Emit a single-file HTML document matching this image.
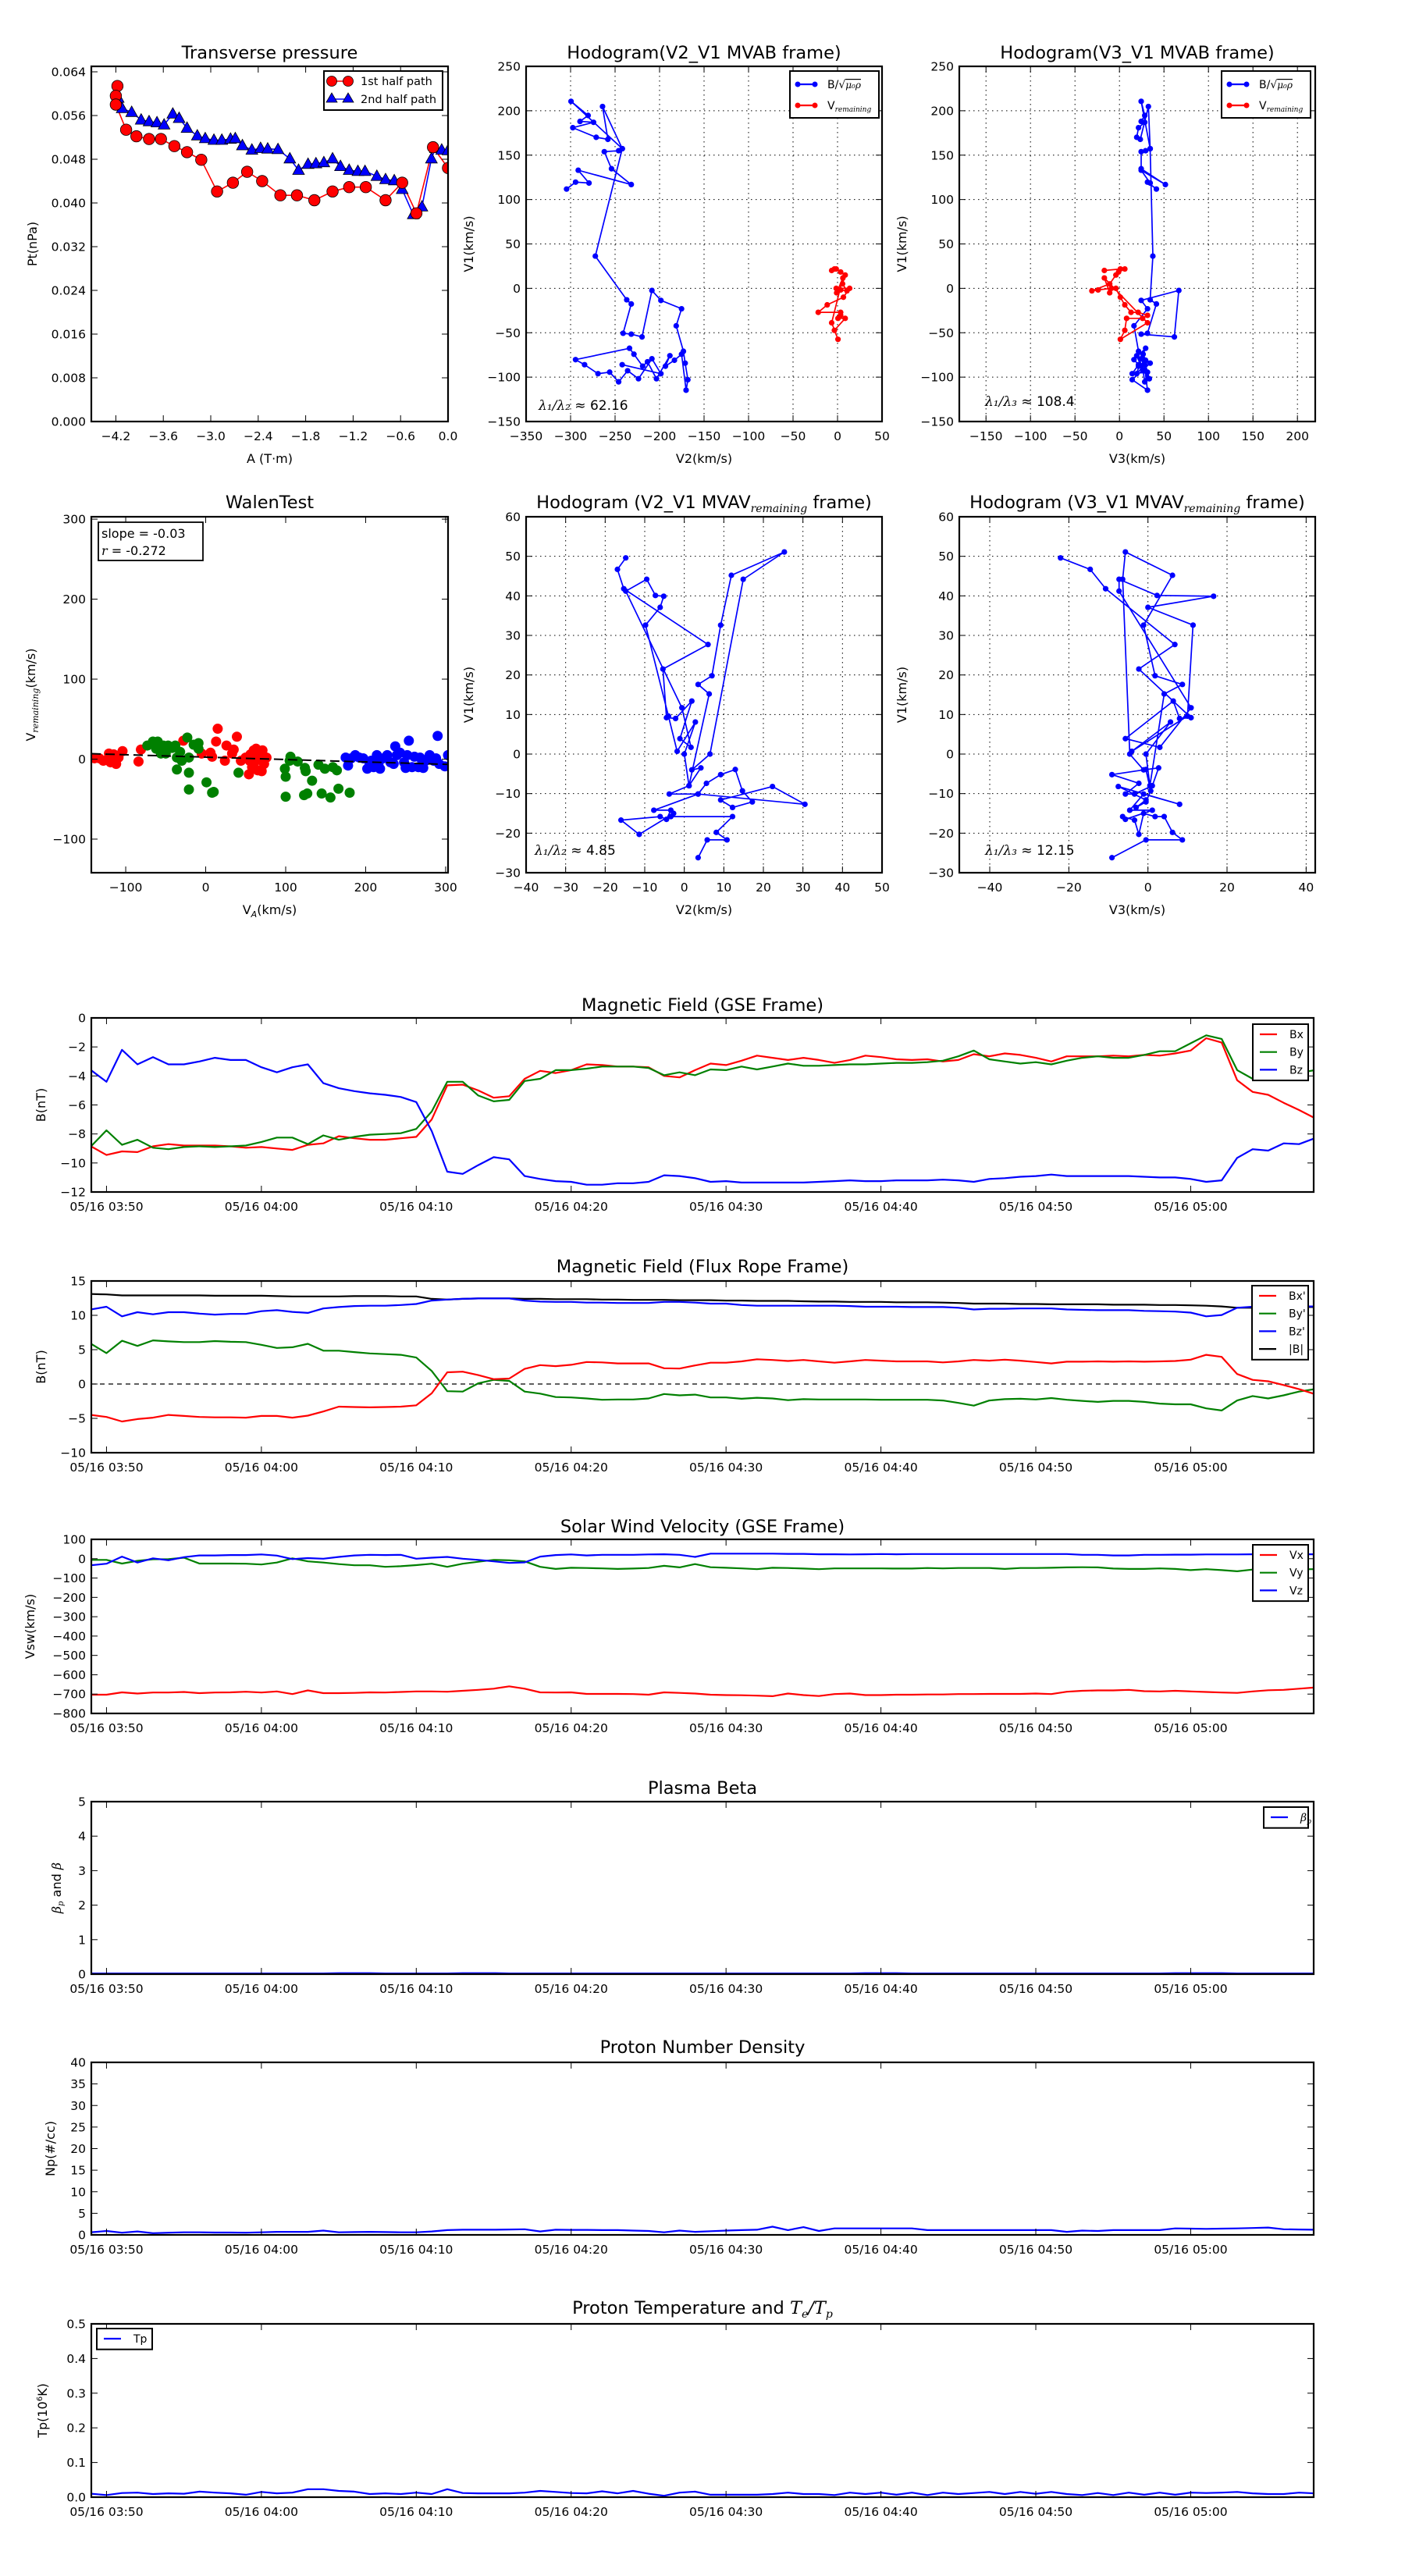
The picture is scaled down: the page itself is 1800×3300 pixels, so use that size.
<!DOCTYPE html>
<html><head><meta charset="utf-8">
<style>
html,body{margin:0;padding:0;background:#fff;}
svg{display:block;font-family:"DejaVu Sans","Liberation Sans",sans-serif;}
</style></head>
<body>
<svg id="fig" width="1800" height="3300" viewBox="0 0 1800 3300" xmlns="http://www.w3.org/2000/svg">
<rect width="1800" height="3300" fill="#fff"/>
</svg>
<script>
// ---------------- DATA ----------------
// Transverse pressure
const tpA1 = [-4.18,-4.20,-4.20,-4.07,-3.94,-3.78,-3.63,-3.46,-3.30,-3.12,-2.92,-2.72,-2.54,-2.35,-2.12,-1.91,-1.69,-1.46,-1.25,-1.04,-0.79,-0.58,-0.40,-0.19,0.0];
const tpP1 = [0.0614,0.0596,0.0580,0.0534,0.0522,0.0517,0.0517,0.0504,0.0493,0.0479,0.0421,0.0437,0.0457,0.0440,0.0414,0.0414,0.0405,0.0421,0.0429,0.0429,0.0405,0.0437,0.0381,0.0502,0.0464];
const tpA2 = [-4.17,-4.12,-4.0,-3.88,-3.78,-3.68,-3.59,-3.48,-3.40,-3.30,-3.17,-3.07,-2.96,-2.86,-2.75,-2.69,-2.60,-2.48,-2.37,-2.28,-2.15,-2.0,-1.89,-1.77,-1.67,-1.57,-1.46,-1.36,-1.25,-1.14,-1.05,-0.90,-0.79,-0.68,-0.58,-0.44,-0.33,-0.21,-0.16,-0.08,0.0];
const tpP2 = [0.0592,0.0573,0.0566,0.0552,0.0549,0.0547,0.0543,0.0563,0.0555,0.0537,0.0523,0.0518,0.0515,0.0515,0.0517,0.0518,0.0505,0.0497,0.0500,0.0499,0.0498,0.0481,0.0460,0.0471,0.0472,0.0474,0.0481,0.0467,0.0460,0.0458,0.0458,0.0449,0.0443,0.0441,0.0425,0.0379,0.0393,0.0481,0.0500,0.0497,0.0496];
const tpXTicks = [-4.2,-3.6,-3.0,-2.4,-1.8,-1.2,-0.6,0.0];
const tpXLabels = ['−4.2','−3.6','−3.0','−2.4','−1.8','−1.2','−0.6','0.0'];
const tpYTicks = [0,0.008,0.016,0.024,0.032,0.040,0.048,0.056,0.064];
const tpYLabels = ['0.000','0.008','0.016','0.024','0.032','0.040','0.048','0.056','0.064'];

// Hodogram MVAB (B/sqrt(mu0 rho))
const hbV2 = [-304.5,-294.4,-279.3,-291.4,-231.8,-254,-262.1,-246,-241.9,-264.1,-258.1,-271.2,-297.5,-274.2,-289.4,-280.3,-299.5,-241.9,-272.2,-236.9,-231.8,-241,-231.8,-219.7,-208.6,-198.5,-175.3,-181.3,-173.2,-171.2,-168.2,-170.2,-175.3,-183.3,-193.4,-188.4,-203.5,-213.6,-219,-228.8,-233.8,-294.4,-284.3,-269.2,-256.1,-246,-235.9,-223.7,-208.6,-198.5,-242];
const hbV3 = [41.5,31.5,34.5,24.4,51.6,24.4,24.4,29.4,34.5,32.5,23.4,19.4,21.4,28.4,24.4,28.4,24.4,34.5,37.5,34.5,41.5,31.5,24.4,61.7,66.7,24.4,31.5,16.3,21.4,34.5,14.3,31.5,26.5,29.4,24.4,19.4,33.5,28.4,21.4,26.5,29.4,16.3,21.4,14.3,31.5,28.4,26.5,33.5,24.4,19.4,28.4];
const hbV1 = [111.8,119.6,118.6,133.0,116.9,134.7,153.9,155.0,157.3,204.8,167.8,170.1,180.9,187.0,188.0,194.7,210.6,157.3,36.3,-12.9,-17.6,-50.6,-51.6,-54.7,-2.4,-13.6,-23.0,-42.2,-70.9,-84.3,-102.9,-114.7,-74.2,-81.0,-87.7,-75.9,-101.8,-82.7,-87.7,-74.2,-67.5,-80.3,-86.0,-96.1,-94.4,-105.3,-92.8,-101.8,-79.3,-96.1,-86.0];
// V remaining
const hrV2 = [-6.6,-1.5,-3.5,3.5,8.6,5.6,10.6,3.5,-1.5,13.6,6.6,-11.6,-21.7,3.5,3.5,0.5,8.6,-3.5,0.5,-6.6,6,-1];
const hrV3 = [-17,1,6,-1,-4,-11,-31,-24,-9,-4,1,6,13,21,31.5,26,8,6,1,31.5,-17,-11];
const hrV1 = [20.1,21.8,21.8,18.4,15,5,-2.8,-1.8,0,0,-10,-18.6,-27,-27,-30.4,-33.8,-33.8,-47.3,-57.4,-38.8,11.7,-5];

// Walen test
const wRedX = [-139,-133,-128,-121,-119,-115,-112,-109,-104,-84,-81,-28,-5,6,8,13,15,24,26,33,35,39,44,50,54,56,58,61,63,65,67,70,71,73,76,60,55];
const wRedY = [1,1,-2,7,-4,6,-6,2,10,-3,12,23,7,8,3,22,38,-2,17,7,12,28,-2,2,-19,6,-10,-4,13,-14,2,-15,11,-6,2,11,-2];
const wGrnX = [-73,-66,-60,-62,-56,-53,-50,-47,-42,-38,-36,-36,-32,-30,-23,-21,-21,-21,-15,-9,-9,1,8,10,41,99,100,100,106,105,115,124,125,123,127,133,141,145,149,156,159,164,166,180];
const wGrnY = [17,22,22,13,7,17,7,17,14,17,-13,2,9,-2,27,-17,-38,2,18,20,13,-29,-42,-41,-17,-12,-22,-47,3,-2,-3,-11,-15,-45,-43,-27,-7,-43,-12,-48,-10,-14,-37,-42];
const wBluX = [175,178,182,187,192,197,202,207,210,214,218,222,227,231,235,237,239,243,248,250,252,254,258,261,266,268,272,275,280,285,288,290,292,299,303,205,216];
const wBluY = [2,-8,1,5,2,1,-12,-2,-10,5,-12,1,5,-4,-6,16,5,8,-4,-11,5,23,-10,3,-10,2,-11,-2,5,-2,1,29,-6,-9,5,-6,-6];
const wFit = [-0.03, 2.5];
const wTicks = [-100,0,100,200,300];
const wTickLabels = ['−100','0','100','200','300'];

// Hodogram MVAV remaining
const hvV2 = [-14.8,-16.9,-15.3,6.0,-5.4,-4.5,-2.2,1.9,-1.1,1.7,-0.6,-14.8,-9.5,-7.3,-5.2,-6.1,-9.8,-4.0,-1.8,2.8,0,1.2,6.3,3.5,7,9.2,11.9,25.3,14.9,6.5,1.9,4.2,1.2,-3.8,3.5,5.6,9.2,12.9,14.7,17.2,12.2,9.2,22.3,30.5,3.5,-7.7,-3.4,-4.5,-6.1,-16,-11.4,-2.7,-3.4,12.2,8.1,10.8,5.8,3.5];
const hvV3 = [-22.1,-14.6,-10.7,6.8,-2.3,10.9,8.0,6.4,-5.7,3.0,10.9,-7.3,-7.3,2.3,16.6,0,11.4,10.0,-4.1,5.7,-0.5,0.5,4.1,8.7,1.8,-1.1,6.2,-5.7,-6.4,-4.6,-1.1,2.7,1.1,-3.4,-5.7,-2.3,-9.1,-0.5,0.7,-0.5,-3.0,-0.5,-7.5,8.0,-1.1,-4.6,1.1,-5.7,-6.4,-3.4,-2.3,-1.1,1.8,4.1,6.2,8.7,-0.5,-9.1];
const hvV1 = [49.6,46.7,41.8,27.7,21.5,9.2,9.0,13.4,3.9,1.7,11.7,41.2,44.2,40.1,39.9,37.1,32.6,9.6,0.7,8.1,0,-8,15.2,17.6,19.8,32.6,45.2,51.1,44.2,0,-4,-3.5,-8,-10.1,-10.1,-7.4,-5.2,-3.9,-9.3,-12.1,-13.5,-11.6,-8.2,-12.7,-10.1,-14.2,-14.2,-16.5,-15.8,-16.7,-20.3,-15,-15.8,-15.8,-19.8,-21.7,-21.7,-26.2];
const hvXTicks = [-40,-30,-20,-10,0,10,20,30,40,50];
const hvYTicks = [-30,-20,-10,0,10,20,30,40,50,60];
const h3vXTicks = [-40,-20,0,20,40];

// Time series: minutes since 05/16 03:50
const times = [-1,0,1,2,3,4,5,6,7,8,9,10,11,12,13,14,15,16,17,18,19,20,21,22,23,24,25,26,27,28,29,30,31,32,33,34,35,36,37,38,39,40,41,42,43,44,45,46,47,48,49,50,51,52,53,54,55,56,57,58,59,60,61,62,63,64,65,66,67,68,69,70,71,72,73,74,75,76,77,78];
const timeTicks = [0,10,20,30,40,50,60,70];
const timeLabels = ['05/16 03:50','05/16 04:00','05/16 04:10','05/16 04:20','05/16 04:30','05/16 04:40','05/16 04:50','05/16 05:00'];

const gseBx = [-8.85,-9.45,-9.2,-9.25,-8.85,-8.7,-8.8,-8.8,-8.8,-8.85,-8.95,-8.9,-9.0,-9.1,-8.75,-8.65,-8.15,-8.3,-8.4,-8.4,-8.3,-8.2,-7.0,-4.65,-4.6,-5.0,-5.5,-5.4,-4.2,-3.65,-3.8,-3.6,-3.2,-3.25,-3.35,-3.35,-3.4,-4.0,-4.1,-3.6,-3.15,-3.25,-2.95,-2.6,-2.75,-2.9,-2.75,-2.9,-3.1,-2.9,-2.6,-2.7,-2.85,-2.9,-2.85,-3.0,-2.9,-2.5,-2.65,-2.45,-2.55,-2.75,-3.0,-2.65,-2.65,-2.65,-2.6,-2.65,-2.55,-2.6,-2.45,-2.25,-1.4,-1.7,-4.3,-5.1,-5.3,-5.85,-6.35,-6.9];
const gseBy = [-8.85,-7.75,-8.75,-8.4,-8.95,-9.05,-8.9,-8.85,-8.9,-8.85,-8.8,-8.55,-8.25,-8.25,-8.7,-8.1,-8.4,-8.2,-8.05,-8.0,-7.95,-7.65,-6.45,-4.4,-4.4,-5.35,-5.75,-5.65,-4.35,-4.2,-3.6,-3.6,-3.5,-3.35,-3.35,-3.35,-3.45,-3.95,-3.75,-3.95,-3.55,-3.6,-3.35,-3.55,-3.35,-3.15,-3.3,-3.3,-3.25,-3.2,-3.2,-3.15,-3.1,-3.1,-3.05,-2.95,-2.65,-2.25,-2.85,-3.0,-3.15,-3.05,-3.2,-2.95,-2.75,-2.65,-2.75,-2.75,-2.55,-2.3,-2.3,-1.75,-1.2,-1.45,-3.6,-4.2,-4.1,-3.9,-3.8,-3.6];
const gseBz = [-3.6,-4.4,-2.2,-3.2,-2.7,-3.2,-3.2,-3.0,-2.75,-2.9,-2.9,-3.4,-3.75,-3.4,-3.2,-4.5,-4.85,-5.05,-5.2,-5.3,-5.45,-5.8,-7.8,-10.6,-10.75,-10.15,-9.6,-9.75,-10.9,-11.1,-11.25,-11.3,-11.5,-11.5,-11.4,-11.4,-11.3,-10.85,-10.9,-11.05,-11.3,-11.25,-11.35,-11.35,-11.35,-11.35,-11.35,-11.3,-11.25,-11.2,-11.25,-11.25,-11.2,-11.2,-11.2,-11.15,-11.2,-11.3,-11.1,-11.05,-10.95,-10.9,-10.8,-10.9,-10.9,-10.9,-10.9,-10.9,-10.95,-11.0,-11.0,-11.1,-11.3,-11.2,-9.65,-9.05,-9.15,-8.65,-8.7,-8.3];

const frBx = [-4.5,-4.8,-5.45,-5.1,-4.9,-4.5,-4.65,-4.8,-4.85,-4.85,-4.9,-4.65,-4.65,-4.9,-4.6,-4.0,-3.3,-3.35,-3.4,-3.35,-3.3,-3.1,-1.35,1.7,1.8,1.3,0.7,0.8,2.2,2.75,2.6,2.8,3.2,3.15,3.0,3.0,3.0,2.3,2.25,2.7,3.1,3.1,3.3,3.6,3.5,3.35,3.5,3.3,3.1,3.3,3.5,3.4,3.3,3.3,3.3,3.15,3.3,3.5,3.4,3.55,3.4,3.2,3.0,3.25,3.25,3.3,3.25,3.3,3.25,3.3,3.35,3.55,4.25,3.95,1.45,0.6,0.4,-0.15,-0.75,-1.45];
const frBy = [5.85,4.5,6.3,5.55,6.35,6.2,6.1,6.1,6.25,6.15,6.1,5.7,5.25,5.35,5.85,4.85,4.85,4.65,4.45,4.35,4.25,3.85,1.9,-1.05,-1.1,0.1,0.6,0.45,-1.1,-1.4,-1.9,-1.95,-2.1,-2.3,-2.25,-2.25,-2.1,-1.45,-1.65,-1.55,-1.95,-1.95,-2.15,-2.0,-2.1,-2.35,-2.2,-2.25,-2.25,-2.25,-2.25,-2.3,-2.3,-2.3,-2.3,-2.4,-2.75,-3.15,-2.4,-2.2,-2.15,-2.25,-2.05,-2.3,-2.45,-2.6,-2.45,-2.45,-2.6,-2.85,-2.95,-2.95,-3.55,-3.85,-2.4,-1.75,-2.1,-1.65,-1.1,-0.75];
const frBz = [10.85,11.25,9.85,10.45,10.15,10.45,10.45,10.25,10.1,10.2,10.2,10.6,10.75,10.5,10.35,11.0,11.2,11.35,11.4,11.4,11.5,11.65,12.15,12.3,12.4,12.45,12.45,12.45,12.15,12.0,11.95,11.95,11.85,11.85,11.8,11.8,11.8,11.95,11.95,11.85,11.7,11.7,11.5,11.4,11.4,11.4,11.4,11.4,11.4,11.35,11.25,11.25,11.25,11.2,11.2,11.2,11.1,10.85,10.95,10.95,11.0,11.0,11.0,10.85,10.8,10.75,10.75,10.75,10.65,10.6,10.55,10.4,9.85,10.05,11.1,11.25,11.3,11.3,11.3,11.3];
const frBt = [13.1,13.05,12.9,12.9,12.9,12.9,12.9,12.9,12.85,12.85,12.85,12.85,12.8,12.75,12.75,12.75,12.75,12.8,12.8,12.8,12.75,12.75,12.4,12.3,12.4,12.45,12.45,12.45,12.4,12.4,12.35,12.35,12.35,12.3,12.3,12.25,12.25,12.25,12.2,12.2,12.2,12.15,12.15,12.1,12.1,12.1,12.05,12.0,12.0,11.95,11.95,11.95,11.9,11.9,11.9,11.85,11.8,11.7,11.7,11.7,11.65,11.65,11.6,11.6,11.6,11.6,11.55,11.55,11.55,11.5,11.5,11.45,11.4,11.3,11.1,11.1,11.2,11.2,11.2,11.2];

const swVx = [-703,-703,-691,-697,-692,-692,-689,-695,-692,-691,-688,-692,-686,-700,-681,-695,-695,-694,-691,-692,-689,-686,-686,-688,-683,-678,-672,-660,-672,-691,-692,-691,-699,-699,-699,-700,-703,-691,-694,-697,-703,-705,-706,-708,-711,-697,-705,-710,-700,-697,-705,-705,-703,-703,-702,-702,-700,-700,-699,-699,-699,-697,-700,-688,-683,-681,-681,-678,-685,-686,-683,-686,-689,-692,-694,-686,-680,-678,-672,-666];
const swVy = [-6,-6,-25,-11,-3,-2,5,-25,-25,-25,-26,-30,-20,2,-14,-20,-28,-34,-34,-42,-39,-33,-26,-42,-26,-16,-6,-8,-14,-42,-53,-47,-48,-50,-53,-51,-48,-37,-45,-28,-44,-47,-50,-54,-47,-48,-51,-54,-50,-50,-50,-50,-51,-51,-48,-50,-48,-48,-48,-53,-48,-48,-47,-45,-44,-45,-51,-53,-53,-50,-53,-59,-54,-59,-65,-56,-55,-55,-55,-54];
const swVz = [-34,-26,11,-20,2,-8,8,17,17,19,19,22,16,-2,3,0,9,17,20,19,20,0,5,9,0,-6,-14,-22,-19,11,19,22,17,20,20,20,22,23,20,9,26,26,26,26,26,25,25,23,23,22,23,24,23,24,24,24,24,24,24,24,24,24,24,24,20,20,17,17,20,20,21,21,22,22,22,23,23,23,23,23];

const betaP = [0.02,0.02,0.02,0.02,0.02,0.02,0.02,0.02,0.02,0.02,0.02,0.02,0.02,0.02,0.02,0.02,0.03,0.03,0.03,0.02,0.02,0.02,0.02,0.02,0.03,0.03,0.03,0.02,0.02,0.02,0.02,0.02,0.02,0.02,0.02,0.02,0.02,0.02,0.02,0.02,0.02,0.02,0.02,0.02,0.02,0.02,0.02,0.02,0.02,0.02,0.03,0.03,0.03,0.02,0.02,0.02,0.02,0.02,0.02,0.02,0.02,0.02,0.02,0.02,0.02,0.02,0.02,0.02,0.02,0.02,0.03,0.03,0.03,0.03,0.02,0.02,0.02,0.02,0.02,0.02];
const npVals = [0.6,0.9,0.5,0.8,0.4,0.5,0.6,0.6,0.55,0.55,0.5,0.6,0.7,0.7,0.7,1.0,0.6,0.65,0.7,0.65,0.6,0.6,0.8,1.1,1.2,1.2,1.2,1.25,1.3,0.8,1.2,1.15,1.15,1.1,1.1,1.0,0.9,0.6,1.0,0.7,0.85,1.0,1.1,1.2,1.9,1.1,1.8,0.9,1.5,1.5,1.5,1.5,1.5,1.5,1.1,1.1,1.1,1.1,1.1,1.1,1.1,1.1,1.1,0.7,1.0,0.9,1.1,1.1,1.1,1.1,1.5,1.45,1.4,1.45,1.5,1.6,1.7,1.3,1.25,1.2];
const tpVals = [0.010,0.006,0.012,0.013,0.009,0.011,0.010,0.016,0.013,0.011,0.007,0.015,0.011,0.013,0.023,0.023,0.018,0.016,0.009,0.011,0.009,0.013,0.009,0.023,0.012,0.011,0.011,0.011,0.013,0.018,0.015,0.012,0.011,0.017,0.011,0.018,0.010,0.004,0.013,0.016,0.007,0.007,0.007,0.007,0.009,0.013,0.009,0.009,0.006,0.013,0.009,0.013,0.007,0.013,0.006,0.013,0.009,0.012,0.015,0.009,0.015,0.010,0.015,0.009,0.006,0.012,0.006,0.013,0.007,0.013,0.007,0.013,0.012,0.013,0.015,0.011,0.009,0.009,0.013,0.011];

// ---------------- DRAWING ----------------
const NS = 'http://www.w3.org/2000/svg';
const svg = document.getElementById('fig');
function mk(tag, attrs, parent) {
  const e = document.createElementNS(NS, tag);
  for (const k in attrs) e.setAttribute(k, attrs[k]);
  (parent || svg).appendChild(e);
  return e;
}
function fmtNum(v){ return (v<0?'−':'') + Math.abs(v); }
let clipId = 0;

function panel(cfg) {
  const g = mk('g', {});
  
  
  const sx = v => cfg.l + (v - cfg.xd[0]) / (cfg.xd[1] - cfg.xd[0]) * (cfg.r - cfg.l);
  const sy = v => cfg.b - (v - cfg.yd[0]) / (cfg.yd[1] - cfg.yd[0]) * (cfg.b - cfg.t);
  const cid = 'clip' + (clipId++);
  const cp = mk('clipPath', {id: cid}, g);
  mk('rect', {x: cfg.l, y: cfg.t, width: cfg.r - cfg.l, height: cfg.b - cfg.t}, cp);
  if (cfg.grid) {
    cfg.xt.forEach(v => { const x = sx(v);
      const gl = mk('line', {x1: x, x2: x, y1: cfg.t, y2: cfg.b, stroke: '#000', 'stroke-width': 1, 'stroke-dasharray': '1.5,4.5'}, g);
      
       });
    cfg.yt.forEach(v => { const y = sy(v);
      const gl = mk('line', {x1: cfg.l, x2: cfg.r, y1: y, y2: y, stroke: '#000', 'stroke-width': 1, 'stroke-dasharray': '1.5,4.5'}, g);
      
       });
  }
  const data = mk('g', {'clip-path': 'url(#' + cid + ')'}, g);
  
  
  cfg.xt.forEach((v, i) => { const x = sx(v);
    mk('line', {x1: x, x2: x, y1: cfg.b, y2: cfg.b - 8, stroke: '#000', 'stroke-width': 1}, g);
    mk('line', {x1: x, x2: x, y1: cfg.t, y2: cfg.t + 8, stroke: '#000', 'stroke-width': 1}, g);
    const t = mk('text', {x: x, y: cfg.b + 24, 'text-anchor': 'middle', 'font-size': 15.5}, g);
    t.textContent = cfg.xl[i];
    
    
  });
  cfg.yt.forEach((v, i) => { const y = sy(v);
    mk('line', {x1: cfg.l, x2: cfg.l + 8, y1: y, y2: y, stroke: '#000', 'stroke-width': 1}, g);
    mk('line', {x1: cfg.r, x2: cfg.r - 8, y1: y, y2: y, stroke: '#000', 'stroke-width': 1}, g);
    const t = mk('text', {x: cfg.l - 7, y: y + 5.5, 'text-anchor': 'end', 'font-size': 15.5}, g);
    t.textContent = cfg.yl[i];
    
    
  });
  const fr = mk('rect', {x: cfg.l, y: cfg.t, width: cfg.r - cfg.l, height: cfg.b - cfg.t, fill: 'none', stroke: '#000', 'stroke-width': 2.2}, g);
  
  
  const ti = mk('text', {x: (cfg.l + cfg.r) / 2, y: cfg.titleY, 'text-anchor': 'middle', 'font-size': 22.5}, g);
  ti.innerHTML = cfg.title;
  
  
  if (cfg.xlab) {
    const xl = mk('text', {x: (cfg.l + cfg.r) / 2, y: cfg.xlabY, 'text-anchor': 'middle', 'font-size': 16}, g);
    xl.innerHTML = cfg.xlab;
    
    
  }
  const cy = (cfg.t + cfg.b) / 2;
  const yl = mk('text', {x: cfg.ylabX, y: cy, 'text-anchor': 'middle', 'font-size': 16, transform: 'rotate(-90 ' + cfg.ylabX + ' ' + cy + ')'}, g);
  yl.innerHTML = cfg.ylab;
  
  
  return {sx, sy, g, data};
}
function pathD(xs, ys, sx, sy) {
  return xs.map((v, i) => (i ? 'L' : 'M') + sx(v).toFixed(1) + ',' + sy(ys[i]).toFixed(1)).join('');
}
function legendBox(g, x, y, w, h) {
  const r = mk('rect', {x: x, y: y, width: w, height: h, fill: '#fff', stroke: '#000', 'stroke-width': 2}, g);
  
  
}
function legendLine(g, x, y, color, label, marker, fs) {
  const ln = mk('line', {x1: x, x2: x + 22, y1: y, y2: y, stroke: color, 'stroke-width': 2.2}, g);
  
  
  if (marker) { mk('circle', {cx: x, cy: y, r: 3.5, fill: color}, g); mk('circle', {cx: x + 22, cy: y, r: 3.5, fill: color}, g); }
  const t = mk('text', {x: x + 38, y: y + 5, 'font-size': fs || 15}, g);
  t.innerHTML = label;
  
  
}

// ---- Transverse pressure ----
(function(){
  const p = panel({name: 'transverse-pressure-panel', l: 117, r: 574, t: 85, b: 540, xd: [-4.51, 0], yd: [0, 0.065],
    xt: tpXTicks, xl: tpXLabels, yt: tpYTicks, yl: tpYLabels, title: 'Transverse pressure', titleY: 75,
    xlab: 'A (T·m)', xlabY: 593, ylab: 'Pt(nPa)', ylabX: 47});
  const l1 = mk('path', {d: pathD(tpA1, tpP1, p.sx, p.sy), fill: 'none', stroke: '#f00', 'stroke-width': 1.6}, p.data);
  
  
  const l2 = mk('path', {d: pathD(tpA2, tpP2, p.sx, p.sy), fill: 'none', stroke: '#00f', 'stroke-width': 1.6}, p.data);
  
  
  tpA2.forEach((a, i) => { const x = p.sx(a), y = p.sy(tpP2[i]);
    const m = mk('polygon', {points: [x, y - 8, x - 7.5, y + 5.5, x + 7.5, y + 5.5].join(','), fill: '#00f', stroke: '#000', 'stroke-width': 0.8}, p.data);
    
     });
  tpA1.forEach((a, i) => {
    const m = mk('circle', {cx: p.sx(a), cy: p.sy(tpP1[i]), r: 7.3, fill: '#f00', stroke: '#000', 'stroke-width': 0.8}, p.data);
    
     });
  const lg = mk('g', {}, p.g);
  
  
  legendBox(lg, 415, 91, 152, 50);
  mk('line', {x1: 425, x2: 446, y1: 104, y2: 104, stroke: '#f00', 'stroke-width': 1.6}, lg);
  mk('circle', {cx: 425, cy: 104, r: 6.5, fill: '#f00', stroke: '#000', 'stroke-width': 0.8}, lg);
  mk('circle', {cx: 446, cy: 104, r: 6.5, fill: '#f00', stroke: '#000', 'stroke-width': 0.8}, lg);
  mk('line', {x1: 425, x2: 446, y1: 127, y2: 127, stroke: '#00f', 'stroke-width': 1.6}, lg);
  mk('polygon', {points: '425,119 418,131 432,131', fill: '#00f', stroke: '#000', 'stroke-width': 0.8}, lg);
  mk('polygon', {points: '446,119 439,131 453,131', fill: '#00f', stroke: '#000', 'stroke-width': 0.8}, lg);
  const a = mk('text', {x: 462, y: 109, 'font-size': 14.5}, lg); a.textContent = '1st half path';
  
  
  const b = mk('text', {x: 462, y: 132, 'font-size': 14.5}, lg); b.textContent = '2nd half path';
  
  
})();

function hodoSeries(p, xs, ys, color, nm, r) {
  const l = mk('path', {d: pathD(xs, ys, p.sx, p.sy), fill: 'none', stroke: color, 'stroke-width': 1.7}, p.data);
  
  
  xs.forEach((v, i) => {
    const c = mk('circle', {cx: p.sx(v), cy: p.sy(ys[i]), r: r || 3.6, fill: color}, p.data);
    
    
  });
}
function hodoLegend(p, x) {
  const lg = mk('g', {}, p.g);
  
  
  legendBox(lg, x, 91, 114, 60);
  legendLine(lg, x + 10, 108, '#00f', 'B/√<tspan text-decoration="overline" font-style="italic" font-family="DejaVu Serif, serif" font-size="12">μ₀ρ</tspan>', true, 14);
  legendLine(lg, x + 10, 135, '#f00', 'V<tspan font-size="9" font-style="italic" font-family="DejaVu Serif, serif" dy="3">remaining</tspan>', true, 14);
}
function ratioText(p, x, y, txt) {
  const t = mk('text', {x: x, y: y, 'font-size': 17}, p.g);
  t.innerHTML = txt;
  
  
}
const hXTicks1 = [-350,-300,-250,-200,-150,-100,-50,0,50];
const hYTicks1 = [-150,-100,-50,0,50,100,150,200,250];
const hXTicks3 = [-150,-100,-50,0,50,100,150,200];

(function(){
  const p = panel({name: 'hodogram-v2-v1-mvab-panel', l: 674, r: 1130, t: 85, b: 540, xd: [-350, 50], yd: [-150, 250], grid: true,
    xt: hXTicks1, xl: hXTicks1.map(fmtNum), yt: hYTicks1, yl: hYTicks1.map(fmtNum), title: 'Hodogram(V2_V1 MVAB frame)', titleY: 75,
    xlab: 'V2(km/s)', xlabY: 593, ylab: 'V1(km/s)', ylabX: 606});
  hodoSeries(p, hbV2, hbV1, '#00f', 'b-alfven');
  hodoSeries(p, hrV2, hrV1, '#f00', 'v-remaining');
  hodoLegend(p, 1012);
  ratioText(p, 690, 525, '<tspan font-style="italic" font-family="DejaVu Serif, serif">λ₁/λ₂</tspan> ≈ 62.16');
})();
(function(){
  const p = panel({name: 'hodogram-v3-v1-mvab-panel', l: 1229, r: 1685, t: 85, b: 540, xd: [-180, 220], yd: [-150, 250], grid: true,
    xt: hXTicks3, xl: hXTicks3.map(fmtNum), yt: hYTicks1, yl: hYTicks1.map(fmtNum), title: 'Hodogram(V3_V1 MVAB frame)', titleY: 75,
    xlab: 'V3(km/s)', xlabY: 593, ylab: 'V1(km/s)', ylabX: 1161});
  hodoSeries(p, hbV3, hbV1, '#00f', 'b-alfven');
  hodoSeries(p, hrV3, hrV1, '#f00', 'v-remaining');
  hodoLegend(p, 1565);
  ratioText(p, 1262, 520, '<tspan font-style="italic" font-family="DejaVu Serif, serif">λ₁/λ₃</tspan> ≈ 108.4');
})();

// ---- Walen test ----
(function(){
  const p = panel({name: 'walen-test-panel', l: 117, r: 574, t: 662, b: 1118, xd: [-143, 303], yd: [-142, 303],
    xt: wTicks, xl: wTickLabels, yt: wTicks, yl: wTickLabels, title: 'WalenTest', titleY: 651,
    xlab: 'V<tspan font-size="11" font-style="italic" dy="4">A</tspan><tspan dy="-4">(km/s)</tspan>', xlabY: 1171,
    ylab: 'V<tspan font-size="11" font-style="italic" font-family="DejaVu Serif, serif" dy="4">remaining</tspan><tspan dy="-4">(km/s)</tspan>', ylabX: 45});
  const groups = [[wRedX, wRedY, '#f00', 'walen-point-red'], [wGrnX, wGrnY, '#008000', 'walen-point-green'], [wBluX, wBluY, '#00f', 'walen-point-blue']];
  groups.forEach(gr => { gr[0].forEach((v, i) => {
    const c = mk('circle', {cx: p.sx(v), cy: p.sy(gr[1][i]), r: 6.5, fill: gr[2]}, p.data);
    
     }); });
  const fit = mk('line', {x1: p.sx(-143), y1: p.sy(wFit[1] + wFit[0] * -143), x2: p.sx(303), y2: p.sy(wFit[1] + wFit[0] * 303), stroke: '#000', 'stroke-width': 2, 'stroke-dasharray': '12,6'}, p.data);
  
  
  const box = mk('g', {}, p.g);
  
  
  mk('rect', {x: 126, y: 669, width: 134, height: 49, fill: '#fff', stroke: '#000', 'stroke-width': 1.8}, box);
  const t1 = mk('text', {x: 130, y: 689, 'font-size': 16}, box); t1.textContent = 'slope = -0.03';
  
  
  const t2 = mk('text', {x: 130, y: 711, 'font-size': 16}, box);
  t2.innerHTML = '<tspan font-style="italic" font-family="DejaVu Serif, serif">r</tspan> = -0.272';
  
  
})();

// ---- Hodogram MVAV ----
(function(){
  const p = panel({name: 'hodogram-v2-v1-mvav-panel', l: 674, r: 1130, t: 662, b: 1118, xd: [-40, 50], yd: [-30, 60], grid: true,
    xt: hvXTicks, xl: hvXTicks.map(fmtNum), yt: hvYTicks, yl: hvYTicks.map(fmtNum),
    title: 'Hodogram (V2_V1 MVAV<tspan font-size="14" font-style="italic" font-family="DejaVu Serif, serif" dy="5">remaining</tspan><tspan dy="-5"> frame)</tspan>', titleY: 651,
    xlab: 'V2(km/s)', xlabY: 1171, ylab: 'V1(km/s)', ylabX: 606});
  hodoSeries(p, hvV2, hvV1, '#00f', 'v-remaining-hodogram');
  ratioText(p, 685, 1095, '<tspan font-style="italic" font-family="DejaVu Serif, serif">λ₁/λ₂</tspan> ≈ 4.85');
})();
(function(){
  const p = panel({name: 'hodogram-v3-v1-mvav-panel', l: 1229, r: 1685, t: 662, b: 1118, xd: [-47.7, 42.3], yd: [-30, 60], grid: true,
    xt: h3vXTicks, xl: h3vXTicks.map(fmtNum), yt: hvYTicks, yl: hvYTicks.map(fmtNum),
    title: 'Hodogram (V3_V1 MVAV<tspan font-size="14" font-style="italic" font-family="DejaVu Serif, serif" dy="5">remaining</tspan><tspan dy="-5"> frame)</tspan>', titleY: 651,
    xlab: 'V3(km/s)', xlabY: 1171, ylab: 'V1(km/s)', ylabX: 1161});
  hodoSeries(p, hvV3, hvV1, '#00f', 'v-remaining-hodogram');
  ratioText(p, 1262, 1095, '<tspan font-style="italic" font-family="DejaVu Serif, serif">λ₁/λ₃</tspan> ≈ 12.15');
})();

// ---- Time series panels ----
function tsPanel(name, t, b, yd, yt, yl, title, titleY, ylab, ylabX) {
  return panel({name: name, l: 117, r: 1683, t: t, b: b, xd: [-0.98, 77.94], yd: yd,
    xt: timeTicks, xl: timeLabels, yt: yt, yl: yl, title: title, titleY: titleY, ylab: ylab, ylabX: ylabX});
}
function tsLine(p, ys, color, nm) {
  const l = mk('path', {d: pathD(times, ys, p.sx, p.sy), fill: 'none', stroke: color, 'stroke-width': 2.2, 'stroke-linejoin': 'round'}, p.data);
  
  
}
function tsLegend(p, x, y, w, entries) {
  const lg = mk('g', {}, p.g);
  
  
  legendBox(lg, x, y, w, entries.length * 22.7 + 4);
  entries.forEach((e, i) => legendLine(lg, x + 9, y + 13 + i * 22.7, e[0], e[1], false, 14));
}
const yGse = [-12,-10,-8,-6,-4,-2,0];
const yFr = [-10,-5,0,5,10,15];
const ySw = [-800,-700,-600,-500,-400,-300,-200,-100,0,100];
const yBeta = [0,1,2,3,4,5];
const yNp = [0,5,10,15,20,25,30,35,40];
const yTp = [0,0.1,0.2,0.3,0.4,0.5];
const yTpLabels = ['0.0','0.1','0.2','0.3','0.4','0.5'];

(function(){
  const p = tsPanel('magnetic-field-gse-panel', 1304, 1527, [-12, 0], yGse, yGse.map(fmtNum), 'Magnetic Field (GSE Frame)', 1295, 'B(nT)', 58);
  tsLine(p, gseBx, '#f00', 'bx-line'); tsLine(p, gseBy, '#008000', 'by-line'); tsLine(p, gseBz, '#00f', 'bz-line');
  tsLegend(p, 1605, 1312, 71, [['#f00', 'Bx'], ['#008000', 'By'], ['#00f', 'Bz']]);
})();
(function(){
  const p = tsPanel('magnetic-field-flux-rope-panel', 1641, 1861, [-10, 15], yFr, yFr.map(fmtNum), 'Magnetic Field (Flux Rope Frame)', 1630, 'B(nT)', 58);
  const z = mk('line', {x1: 117, x2: 1683, y1: p.sy(0), y2: p.sy(0), stroke: '#000', 'stroke-width': 1.2, 'stroke-dasharray': '6,5'}, p.data);
  
  
  tsLine(p, frBt, '#000', 'b-total-line'); tsLine(p, frBz, '#00f', 'bz-prime-line'); tsLine(p, frBy, '#008000', 'by-prime-line'); tsLine(p, frBx, '#f00', 'bx-prime-line');
  tsLegend(p, 1604, 1647, 72, [['#f00', "Bx'"], ['#008000', "By'"], ['#00f', "Bz'"], ['#000', '|B|']]);
})();
(function(){
  const p = tsPanel('solar-wind-velocity-panel', 1972, 2195, [-800, 100], ySw, ySw.map(fmtNum), 'Solar Wind Velocity (GSE Frame)', 1963, 'Vsw(km/s)', 44);
  tsLine(p, swVx, '#f00', 'vx-line'); tsLine(p, swVy, '#008000', 'vy-line'); tsLine(p, swVz, '#00f', 'vz-line');
  tsLegend(p, 1605, 1979, 71, [['#f00', 'Vx'], ['#008000', 'Vy'], ['#00f', 'Vz']]);
})();
(function(){
  const p = tsPanel('plasma-beta-panel', 2308, 2529, [0, 5], yBeta, yBeta.map(String), 'Plasma Beta', 2298,
    '<tspan font-style="italic" font-family="DejaVu Serif, serif">β<tspan font-size="10" dy="3">p</tspan></tspan><tspan dy="-3"> and </tspan><tspan font-style="italic" font-family="DejaVu Serif, serif">β</tspan>', 78);
  tsLine(p, betaP, '#00f', 'beta-p-line');
  tsLegend(p, 1619, 2315, 57, [['#00f', '<tspan font-style="italic" font-family="DejaVu Serif, serif">β<tspan font-size="9" dy="3">p</tspan></tspan>']]);
})();
(function(){
  const p = tsPanel('proton-density-panel', 2642, 2863, [0, 40], yNp, yNp.map(String), 'Proton Number Density', 2630, 'Np(#/cc)', 70);
  tsLine(p, npVals, '#00f', 'np-line');
})();
(function(){
  const p = tsPanel('proton-temperature-panel', 2977, 3199, [0, 0.5], yTp, yTpLabels,
    'Proton Temperature and <tspan font-style="italic" font-family="DejaVu Serif, serif">T<tspan font-size="14" dy="5">e</tspan><tspan dy="-5">/T</tspan><tspan font-size="14" dy="5">p</tspan></tspan>', 2964,
    'Tp(10<tspan font-size="10" dy="-6">6</tspan><tspan dy="6">K)</tspan>', 60);
  tsLine(p, tpVals, '#00f', 'tp-line');
  tsLegend(p, 124, 2983, 71, [['#00f', 'Tp']]);
})();
</script>
</body></html>
